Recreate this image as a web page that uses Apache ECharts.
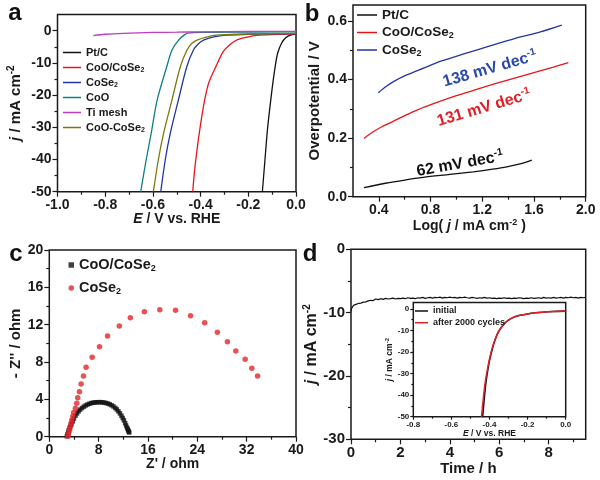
<!DOCTYPE html>
<html><head><meta charset="utf-8">
<script src="https://cdn.jsdelivr.net/npm/echarts@6/dist/echarts.min.js"></script>
<style>html,body{margin:0;padding:0;background:#fff}#c{width:600px;height:480px}</style>
</head><body><div id="c"></div>
<script>
// ---------- Panel a: LSV curves [E (V vs RHE), j (mA cm-2)] ----------
const aPtC = [[-0.141,-50],[-0.13,-40],[-0.12,-31],[-0.105,-21],[-0.09,-12.5],[-0.077,-7],[-0.06,-3.8],[-0.042,-2.1],[-0.02,-1.3],[0,-1.0]];
const aCoOCoSe2 = [[-0.433,-50],[-0.426,-44],[-0.415,-37],[-0.40,-29],[-0.383,-21.5],[-0.365,-16],[-0.335,-11],[-0.305,-6.5],[-0.275,-4.2],[-0.249,-2.9],[-0.2,-1.9],[-0.165,-1.45],[-0.1,-1.2],[0,-1.0]];
const aCoSe2 = [[-0.567,-50],[-0.548,-40],[-0.527,-31.8],[-0.493,-21.5],[-0.458,-11.2],[-0.43,-6],[-0.408,-4],[-0.388,-2.9],[-0.345,-1.9],[-0.29,-1.4],[-0.2,-1.1],[0,-0.9]];
const aCoO = [[-0.651,-50],[-0.628,-40],[-0.607,-31.8],[-0.582,-21.5],[-0.542,-11.2],[-0.52,-6],[-0.492,-2.9],[-0.468,-1.3],[-0.45,-0.7],[-0.4,-0.5],[0,-0.35]];
const aTiMesh = [[-0.85,-1.5],[-0.8,-1.1],[-0.725,-0.8],[-0.6,-0.55],[-0.5,-0.45],[-0.4,-0.35],[-0.2,-0.25],[0,-0.2]];
const aCoOminusCoSe2 = [[-0.598,-50],[-0.577,-40],[-0.555,-31.8],[-0.52,-21.5],[-0.485,-11.2],[-0.457,-6],[-0.437,-4],[-0.415,-2.9],[-0.372,-1.9],[-0.333,-1.4],[-0.25,-1.1],[0,-0.8]];
const aXTicks = [-1.0,-0.8,-0.6,-0.4,-0.2,0.0];
const aXMinor = [-0.9,-0.7,-0.5,-0.3,-0.1];
const aYTicks = [-50,-40,-30,-20,-10,0];
const aYMinor = [-45,-35,-25,-15,-5];

// ---------- Panel b: Tafel plots [log j, overpotential V] ----------
const bPtC = [[0.285,0.031],[0.45,0.046],[0.6,0.057],[0.744,0.066],[0.95,0.076],[1.13,0.085],[1.28,0.094],[1.39,0.102],[1.5,0.113],[1.583,0.125]];
const bCoOCoSe2 = [[0.285,0.199],[0.35,0.22],[0.42,0.238],[0.5,0.255],[0.6,0.277],[0.7,0.297],[0.85,0.322],[1.0,0.345],[1.15,0.366],[1.3,0.386],[1.45,0.405],[1.6,0.424],[1.75,0.443],[1.866,0.458]];
const bCoSe2 = [[0.396,0.355],[0.45,0.375],[0.52,0.395],[0.616,0.416],[0.75,0.44],[0.873,0.462],[1.05,0.487],[1.26,0.515],[1.45,0.54],[1.65,0.563],[1.815,0.586]];
const bSlopes = ['138 mV dec', '131 mV dec', '62 mV dec'];
const bXTicks = [0.4,0.8,1.2,1.6,2.0];
const bXMinor = [0.6,1.0,1.4,1.8];
const bYTicks = [0.0,0.2,0.4,0.6];
const bYMinor = [0.1,0.3,0.5];

// ---------- Panel c: Nyquist plots [Z', -Z''] ----------
const cCoOCoSe2 = [[2.85,0.05],[2.95,0.25],[3.05,0.45],[3.15,0.7],[3.3,0.95],[3.45,1.15],[3.6,1.35],[3.8,1.65],[4.0,1.95],[4.25,2.25],[4.5,2.5],[4.75,2.72],[5.0,2.9],[5.3,3.07],[5.6,3.22],[5.9,3.35],[6.2,3.45],[6.5,3.53],[6.8,3.6],[7.1,3.64],[7.4,3.67],[7.7,3.69],[8.0,3.7],[8.3,3.7],[8.6,3.68],[8.9,3.65],[9.2,3.61],[9.5,3.55],[9.8,3.47],[10.1,3.37],[10.4,3.24],[10.7,3.08],[10.95,2.92],[11.2,2.72],[11.45,2.5],[11.7,2.25],[11.9,2.0],[12.1,1.75],[12.3,1.45],[12.45,1.2],[12.6,0.98],[12.7,0.82],[12.8,0.68],[12.9,0.55],[12.95,0.45]];
const cCoSe2 = [[3.0,0.05],[3.1,0.3],[3.2,0.55],[3.3,0.8],[3.4,1.1],[3.52,1.45],[3.65,1.8],[3.8,2.2],[3.95,2.6],[4.23,3.04],[4.45,3.57],[4.61,4.18],[4.89,4.82],[5.16,5.64],[5.54,6.5],[5.97,7.43],[6.95,8.5],[8.14,9.64],[9.45,10.79],[11.35,11.86],[13.14,12.75],[15.42,13.39],[17.92,13.61],[20.47,13.54],[22.9,12.96],[25.19,12.21],[27.25,11.18],[28.88,10.18],[30.24,9.18],[31.76,8.29],[32.84,7.32],[33.77,6.5]];
const cXTicks = [0,8,16,24,32,40];
const cXMinor = [4,12,20,28,36];
const cYTicks = [0,4,8,12,16,20];
const cYMinor = [2,6,10,14,18];

// ---------- Panel d: chronoamperometry ----------
const dTime = [0,0.03,0.06,0.1,0.2,0.3,0.4,0.5,0.6,0.7,0.8,0.9,1.0,1.1,1.2,1.3,1.4,1.5,1.6,1.7,1.8,1.9,2.0,2.1,2.2,2.3,2.4,2.5,2.6,2.7,2.8,2.9,3.0,3.1,3.2,3.3,3.4,3.5,3.6,3.7,3.8,3.9,4.0,4.1,4.2,4.3,4.4,4.5,4.6,4.7,4.8,4.9,5.0,5.1,5.2,5.3,5.4,5.5,5.6,5.7,5.8,5.9,6.0,6.1,6.2,6.3,6.4,6.5,6.6,6.7,6.8,6.9,7.0,7.1,7.2,7.3,7.4,7.5,7.6,7.7,7.8,7.9,8.0,8.1,8.2,8.3,8.4,8.5,8.6,8.7,8.8,8.9,9.0,9.1,9.2,9.3,9.4,9.5];
const dCurrent = [-9.8,-9.3,-9.0,
 -8.85,-8.7,-8.55,-8.5,-8.35,-8.3,-8.15,-8.05,-8.1,-7.85,
 -7.95,-7.8,-7.9,-7.75,-7.85,-7.8,-7.7,-7.85,-7.75,-7.8,
 -7.7,-7.8,-7.65,-7.75,-7.7,-7.8,-7.65,-7.7,-7.6,-7.75,
 -7.65,-7.6,-7.7,-7.6,-7.65,-7.55,-7.7,-7.6,-7.65,-7.55,
 -7.65,-7.6,-7.7,-7.6,-7.65,-7.55,-7.65,-7.7,-7.6,-7.65,
 -7.75,-7.65,-7.7,-7.6,-7.7,-7.65,-7.75,-7.7,-7.8,-7.7,
 -7.75,-7.65,-7.75,-7.7,-7.8,-7.7,-7.75,-7.65,-7.7,-7.8,
 -7.7,-7.75,-7.65,-7.75,-7.7,-7.65,-7.75,-7.6,-7.7,-7.65,
 -7.7,-7.6,-7.7,-7.65,-7.6,-7.7,-7.6,-7.65,-7.55,-7.65,
 -7.6,-7.7,-7.6,-7.65,-7.6];
const dXTicks = [0,2,4,6,8];
const dXMinor = [1,3,5,7,9];
const dYTicks = [-30,-20,-10,0];
const dYMinor = [-25,-15,-5];

// ---------- Panel d inset: polarization before/after cycling ----------
const insInitial = [[-0.436,-50],[-0.428,-42],[-0.42,-35],[-0.412,-30],[-0.4,-24],[-0.385,-18.5],[-0.371,-14.4],[-0.35,-10.2],[-0.32,-6.6],[-0.29,-4.6],[-0.255,-3.3],[-0.223,-2.7],[-0.18,-2.0],[-0.12,-1.5],[-0.065,-1.2],[0,-1.0]];
const insAfter = [[-0.442,-50],[-0.433,-42],[-0.424,-35],[-0.415,-30],[-0.402,-24],[-0.387,-18.5],[-0.372,-14.4],[-0.351,-10.2],[-0.321,-6.6],[-0.29,-4.6],[-0.255,-3.3],[-0.223,-2.7],[-0.18,-2.0],[-0.12,-1.5],[-0.065,-1.2],[0,-1.0]];
const iXTicks = [-0.8,-0.6,-0.4,-0.2,0.0];
const iXMinor = [-0.7,-0.5,-0.3,-0.1];
const iYTicks = [-50,-40,-30,-20,-10,0];
const iYMinor = [-45,-35,-25,-15,-5];

// ---------- styling helpers ----------
const FONT = '"Liberation Sans", Arial, Helvetica, sans-serif';
const INK = '#1a1a1a';
const C = {black:'#111111', red:'#e8161b', blue:'#2336a0', teal:'#0f8080', magenta:'#c03cc0', olive:'#7a7a10'};

function rich(size, color) {
  const s = Math.round(size * 0.65);
  const base = {fontFamily: FONT, fontWeight: 'bold', color: color, fill: color};
  return {
    n: Object.assign({fontSize: size, lineHeight: Math.round(size * 1.2)}, base),
    i: Object.assign({fontSize: size, lineHeight: Math.round(size * 1.2), fontStyle: 'italic'}, base),
    sup: Object.assign({fontSize: s, lineHeight: s, verticalAlign: 'top'}, base),
    sub: Object.assign({fontSize: s, lineHeight: s, verticalAlign: 'bottom'}, base)
  };
}
const f1 = v => Number(v).toFixed(1);
const f0 = v => String(Math.round(v));

function axes(g, dim, c) {
  const isX = dim === 'x';
  const major = {
    type: 'value', gridIndex: g, min: c.min, max: c.max, position: isX ? 'bottom' : 'left',
    axisLine: {show: false, onZero: false}, splitLine: {show: false},
    axisTick: {show: true, inside: false, length: c.tick || 5, customValues: c.majors, lineStyle: {color: INK, width: 1.2}},
    axisLabel: {show: true, customValues: c.majors, formatter: c.fmt, color: INK, fontSize: c.fs, fontWeight: 'bold', fontFamily: FONT, margin: c.margin},
    name: c.name, nameLocation: 'middle', nameGap: c.gap, nameRotate: isX ? 0 : 90,
    nameTextStyle: {fontSize: c.ns, fontWeight: 'bold', fontFamily: FONT, color: INK, rich: rich(c.ns, INK)}
  };
  const minor = {
    type: 'value', gridIndex: g, min: c.min, max: c.max, position: isX ? 'bottom' : 'left',
    axisLine: {show: false, onZero: false}, splitLine: {show: false}, axisLabel: {show: false},
    axisTick: {show: true, inside: false, length: c.mtick || 3, customValues: c.minors, lineStyle: {color: INK, width: 1.2}}
  };
  return [major, minor];
}

const jName = '{i|j}{n| / mA cm}{sup|-2}';
const eName = '{i|E}{n| / V vs. RHE}';

const xAxis = [].concat(
  axes(0, 'x', {min:-1, max:0, majors:aXTicks, minors:aXMinor, fmt:f1, fs:14, margin:6, name:eName, gap:19, ns:14}),
  axes(1, 'x', {min:0.2, max:2.0, majors:bXTicks, minors:bXMinor, fmt:f1, fs:14, margin:6, name:'{n|Log( }{i|j}{n| / mA cm}{sup|-2}{n| )}', gap:21, ns:14}),
  axes(2, 'x', {min:0, max:40, majors:cXTicks, minors:cXMinor, fmt:f0, fs:14, margin:6, name:"Z' / ohm", gap:19, ns:14}),
  axes(3, 'x', {min:0, max:9.5, majors:dXTicks, minors:dXMinor, fmt:f0, fs:15, margin:6, name:'Time / h', gap:19, ns:15}),
  axes(4, 'x', {min:-0.8, max:0, majors:iXTicks, minors:iXMinor, fmt:f1, fs:8, margin:4, name:eName, gap:11, ns:8.5, tick:3, mtick:2})
);
const yAxis = [].concat(
  axes(0, 'y', {min:-50, max:5, majors:aYTicks, minors:aYMinor, fmt:f0, fs:14, margin:6, name:jName, gap:33, ns:15}),
  axes(1, 'y', {min:0, max:0.655, majors:bYTicks, minors:bYMinor, fmt:f1, fs:14, margin:6, name:'Overpotential / V', gap:31, ns:15}),
  axes(2, 'y', {min:0, max:20, majors:cYTicks, minors:cYMinor, fmt:f0, fs:14, margin:6, name:"- Z'' / ohm", gap:24, ns:15}),
  axes(3, 'y', {min:-30, max:0, majors:dYTicks, minors:dYMinor, fmt:f0, fs:15, margin:6, name:jName, gap:26, ns:16}),
  axes(4, 'y', {min:-50, max:3, majors:iYTicks, minors:iYMinor, fmt:f0, fs:8, margin:4, name:jName, gap:13, ns:8.5, tick:3, mtick:2})
);

const grid = [
  {left:57.5, top:14.6, width:238.5, height:177.1},
  {left:353, top:5, width:232.7, height:191.7},
  {left:49.3, top:250, width:246.7, height:186.7},
  {left:351, top:249.3, width:234.7, height:190},
  {left:413.3, top:302.5, width:152.4, height:114.2, backgroundColor:'#fff'}
].map(g => Object.assign({show:true, borderColor:INK, borderWidth:1.5, containLabel:false}, g));

function line(name, g, data, color, w) {
  return {type:'line', name:name, xAxisIndex:2*g, yAxisIndex:2*g, data:data, symbol:'none', smooth:0.3,
    lineStyle:{color:color, width:w || 1.3}, itemStyle:{color:color}, animation:false, silent:true};
}
function dots(name, g, data, color, sym, size) {
  return {type:'scatter', name:name, xAxisIndex:2*g, yAxisIndex:2*g, data:data, symbol:sym, symbolSize:size,
    itemStyle:{color:color}, animation:false, silent:true};
}

const dData = dTime.map((t, k) => [t, dCurrent[k]]);

const series = [
  line('a:Pt/C', 0, aPtC, C.black),
  line('a:CoO/CoSe2', 0, aCoOCoSe2, C.red),
  line('a:CoSe2', 0, aCoSe2, C.blue),
  line('a:CoO', 0, aCoO, C.teal),
  line('a:Ti mesh', 0, aTiMesh, C.magenta),
  line('a:CoO-CoSe2', 0, aCoOminusCoSe2, C.olive),
  line('b:Pt/C', 1, bPtC, C.black),
  line('b:CoO/CoSe2', 1, bCoOCoSe2, C.red),
  line('b:CoSe2', 1, bCoSe2, C.blue),
  dots('c:CoO/CoSe2', 2, cCoOCoSe2, '#111', 'rect', 4.5),
  dots('c:CoSe2', 2, cCoSe2, '#e2262b', 'circle', 5.5),
  Object.assign(line('d:main', 3, dData, C.black, 1.2), {smooth:false}),
  line('i:initial', 4, insInitial, C.black, 1.6),
  line('i:after 2000 cycles', 4, insAfter, '#e0202a', 1.5)
];

const legFmt = name => name.split(':')[1].replace('Se2', 'Se{sub|2}');
function legend(names, left, top, fs, lh, iw, ih, gap, icon) {
  const r = rich(fs, INK);
  r.n.lineHeight = lh;
  const o = {show:true, orient:'vertical', left:left, top:top, padding:0, itemGap:gap, itemWidth:iw, itemHeight:ih,
    selectedMode:false, data:names, formatter:legFmt,
    textStyle:{fontSize:fs, fontWeight:'bold', fontFamily:FONT, color:INK, lineHeight:lh, rich:r}};
  if (icon) o.icon = icon;
  return o;
}

const legendList = [
  legend(['a:Pt/C','a:CoO/CoSe2','a:CoSe2','a:CoO','a:Ti mesh','a:CoO-CoSe2'], 63, 46, 11, 13, 18, 1.5, 2, 'rect'),
  legend(['b:Pt/C','b:CoO/CoSe2','b:CoSe2'], 357, 7, 13.5, 16, 20, 1.5, 1.5, 'rect'),
  legend(['c:CoO/CoSe2','c:CoSe2'], 68.5, 256.5, 14.5, 17, 5.5, 5.5, 6),
  legend(['i:initial','i:after 2000 cycles'], 415, 305.5, 9, 11, 13, 1.5, 0.7, 'rect')
];

function txt(x, y, text, size, color, rotDeg) {
  return {type:'text', x:x, y:y, rotation:(rotDeg || 0) * Math.PI / 180, silent:true,
    style:{text:text, fill:color, fontSize:size, fontWeight:'bold', fontFamily:FONT, align:'center', verticalAlign:'middle', rich:rich(size, color)}};
}

const graphic = [
  txt(15, 13, 'a', 24, '#111'),
  txt(312, 14, 'b', 24, '#111'),
  txt(16, 254, 'c', 24, '#111'),
  txt(310, 254, 'd', 24, '#111'),
  txt(490, 69, '{n|' + bSlopes[0] + '}{sup|-1}', 16, '#2a4aa8', 16),
  txt(484, 108, '{n|' + bSlopes[1] + '}{sup|-1}', 16, '#e21d24', 16.5),
  txt(460, 164, '{n|' + bSlopes[2] + '}{sup|-1}', 16, '#111', 10)
];

const chart = echarts.init(document.getElementById('c'), null, {renderer:'canvas'});
chart.setOption({
  animation:false, backgroundColor:'#fff',
  grid:grid, xAxis:xAxis, yAxis:yAxis, series:series, legend:legendList, graphic:graphic
});
</script>
</body></html>
